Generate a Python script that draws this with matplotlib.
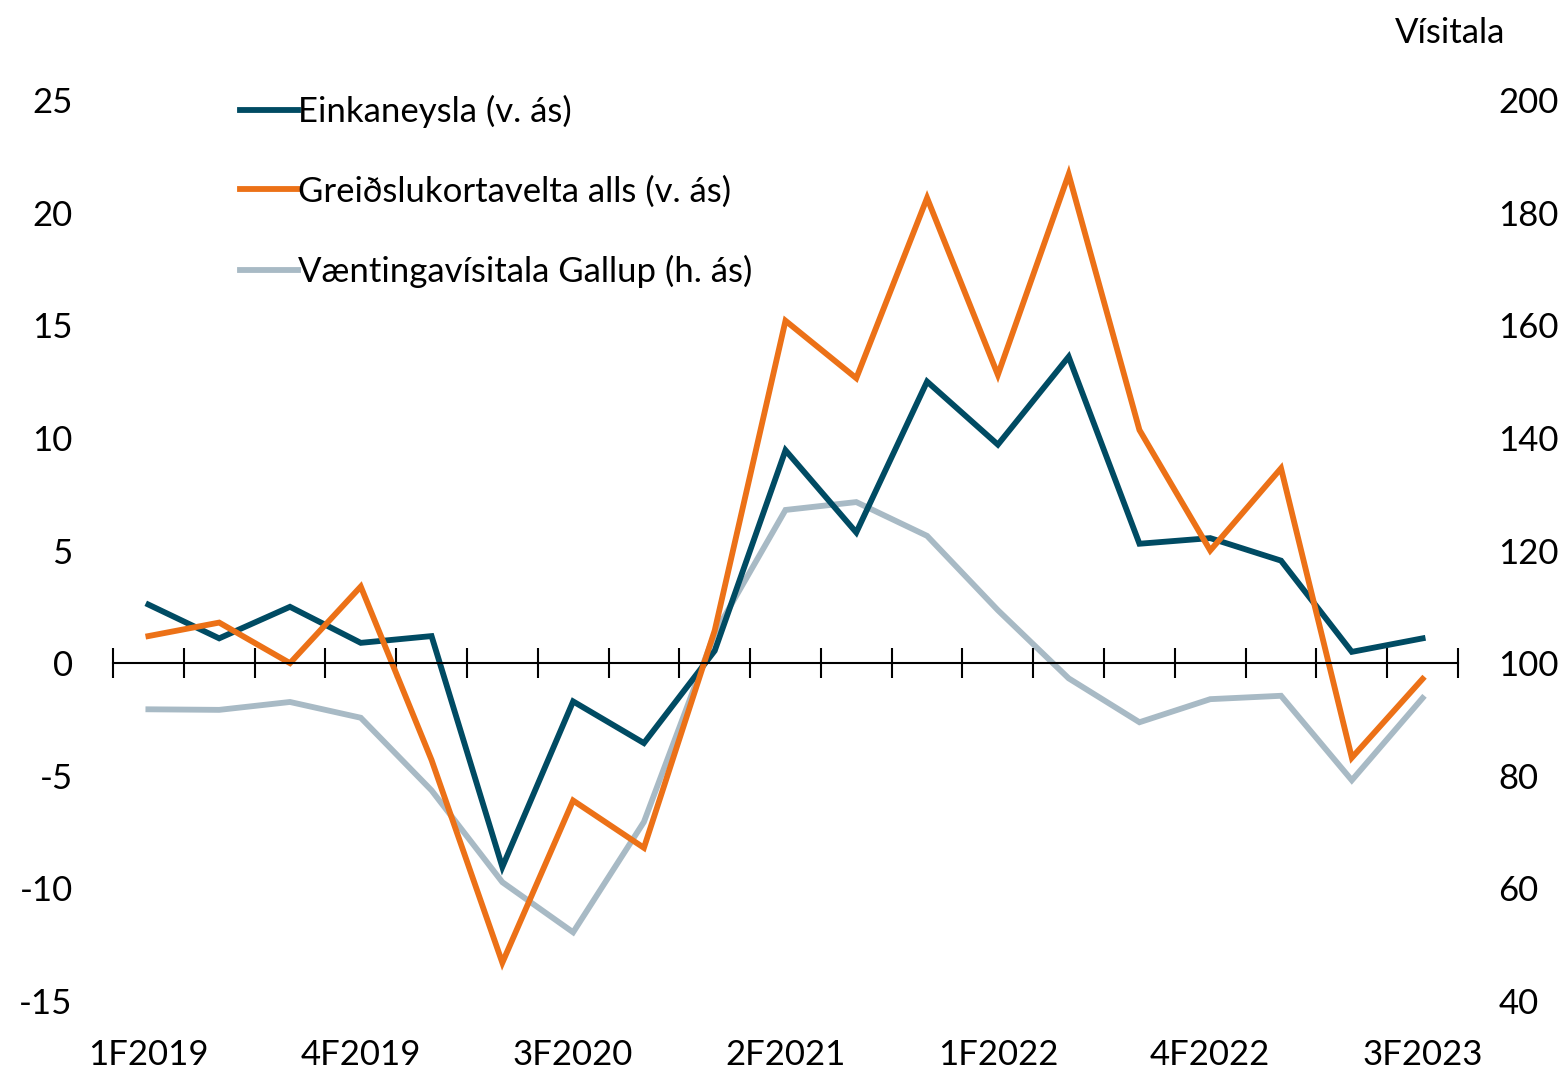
import matplotlib.pyplot as plt
import numpy as np

quarters = ['1F2019', '2F2019', '3F2019', '4F2019', '1F2020', '2F2020', '3F2020', '4F2020',
            '1F2021', '2F2021', '3F2021', '4F2021', '1F2022', '2F2022', '3F2022', '4F2022',
            '1F2023', '2F2023', '3F2023']
einkaneysla = [2.6, 1.1, 2.5, 0.9, 1.2, -9.05, -1.7, -3.55, 0.55, 9.45, 5.8, 12.5, 9.7, 13.6,
               5.3, 5.55, 4.55, 0.5, 1.1]
greidslukort = [1.2, 1.8, 0.0, 3.4, -4.3, -13.3, -6.1, -8.2, 1.45, 15.2, 12.65, 20.65, 12.8,
                21.7, 10.35, 5.0, 8.65, -4.2, -0.7]
vaentingar = [91.8, 91.7, 93.1, 90.3, 77.4, 61.1, 52.2, 71.8, 105.3, 127.2, 128.6, 122.6,
              109.4, 97.3, 89.5, 93.6, 94.2, 79.2, 93.8]

plt.rcParams['font.family'] = ['Lato', 'DejaVu Sans']
plt.rcParams['axes.unicode_minus'] = False
fs = 25

fig = plt.figure(figsize=(15.67, 10.78), dpi=100)
ax = fig.add_axes([113/1567, 1 - 1001/1078, 1345/1567, 901/1078])
ax2 = ax.twinx()

x = np.arange(len(quarters))
c_teal = '#004B63'
c_orange = '#EC7117'
c_gray = '#A8BAC5'

ax2.plot(x, vaentingar, color=c_gray, lw=4.2, solid_joinstyle='miter')
ax.plot(x, einkaneysla, color=c_teal, lw=4.2, solid_joinstyle='miter', label='Einkaneysla (v. ás)')
ax.plot(x, greidslukort, color=c_orange, lw=4.2, solid_joinstyle='miter', label='Greiðslukortavelta alls (v. ás)')
ax.set_zorder(ax2.get_zorder() + 1)
ax.patch.set_visible(False)

ax.set_xlim(-0.5, len(quarters) - 0.5)
ax.set_ylim(-15, 25)
ax2.set_ylim(40, 200)
ax.set_yticks(range(-15, 26, 5))
ax2.set_yticks(range(40, 201, 20))

for a in (ax, ax2):
    for s in ['top', 'left', 'right']:
        a.spines[s].set_visible(False)
ax2.spines['bottom'].set_visible(False)
ax.spines['bottom'].set_position(('data', 0))
ax.spines['bottom'].set_linewidth(1.5)

ax.set_xticks(np.arange(-0.5, len(quarters), 1.0))
ax.tick_params(axis='x', direction='inout', length=22, width=1.5, labelbottom=False)
ax2.tick_params(axis='x', bottom=False, labelbottom=False)
ax.tick_params(axis='y', length=0, pad=29, labelsize=fs)
ax2.tick_params(axis='y', length=0, pad=29, labelsize=fs)

for i in range(0, len(quarters), 3):
    ax.text(i, -0.06, quarters[i], transform=ax.get_xaxis_transform(),
            ha='center', va='center', fontsize=fs)

fig.text(1505/1567, 1 - 33/1078, 'Vísitala', ha='right', va='center', fontsize=fs)

h1, l1 = ax.get_legend_handles_labels()
h2 = ax2.get_lines()
ax.legend(h1 + [h2[0]], l1 + ['Væntingavísitala Gallup (h. ás)'],
          loc='upper left', bbox_to_anchor=(240/1567, 1 - 95/1078), bbox_transform=fig.transFigure,
          frameon=False, fontsize=fs, handlelength=1.67, handletextpad=0.0,
          labelspacing=1.36, borderpad=0, borderaxespad=0)

fig.savefig('out.png', dpi=100)
